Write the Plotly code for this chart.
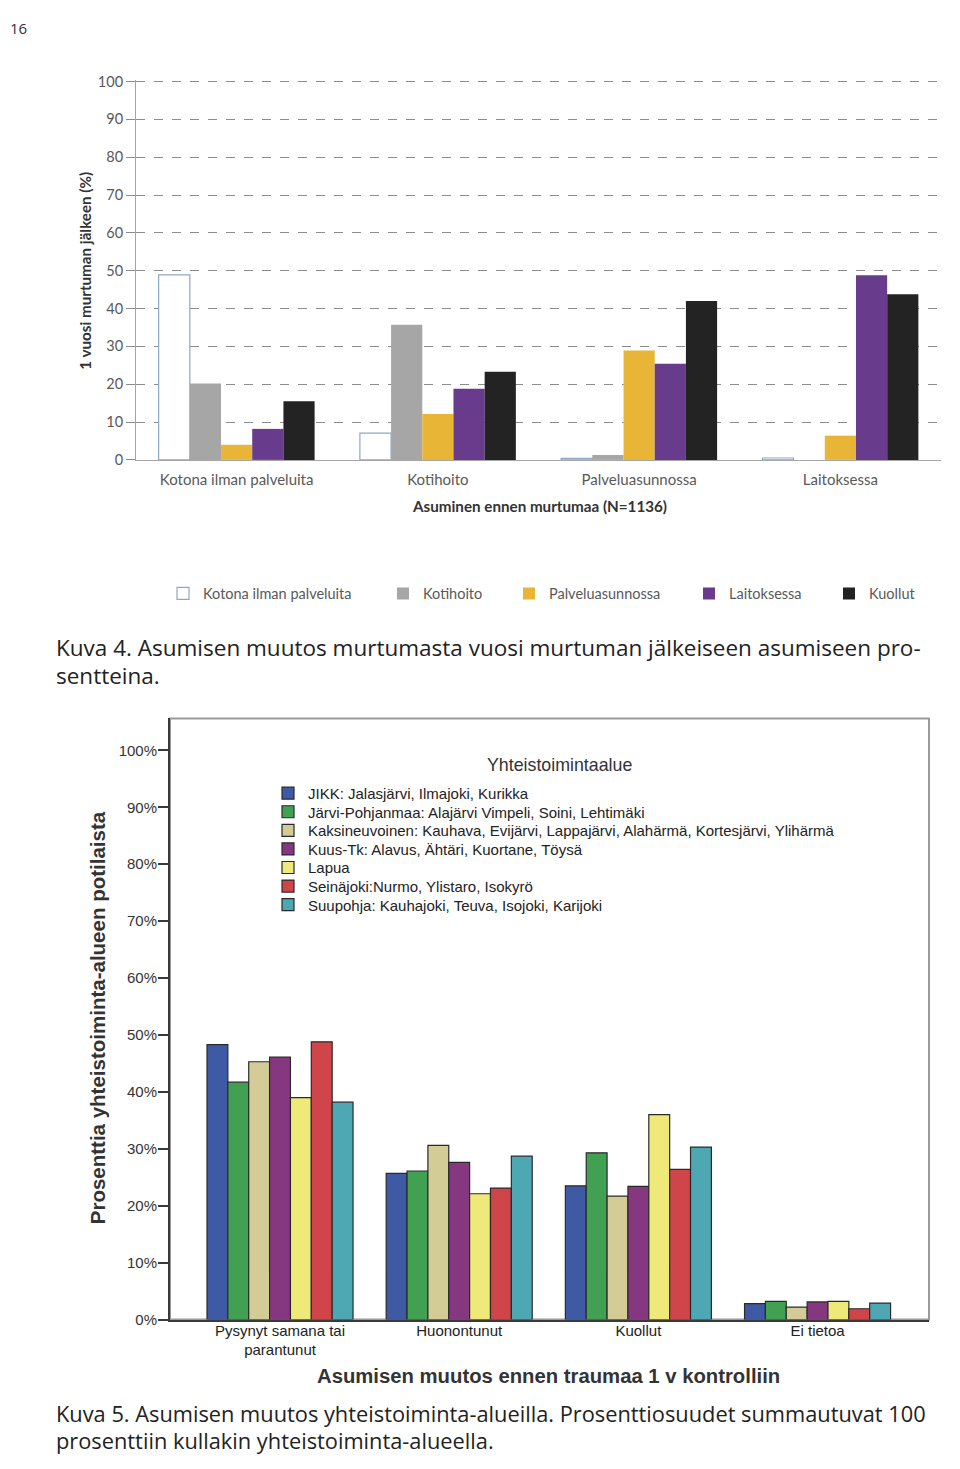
import plotly.graph_objects as go

# Page is 960x1469; the browser adds margins round the figure and the picture
# is taken of the whole page, which is squeezed slightly (factor S, offset B).
PAGE_W, PAGE_H, M = 960, 1469, 8
W, H = PAGE_W - 2 * M, PAGE_H - 2 * M
S, B = 0.9903, 6.2

# ---------------- Data: Chart 1 (Kuva 4) ----------------
cats1 = ["Kotona ilman palveluita", "Kotihoito", "Palveluasunnossa", "Laitoksessa"]
names1 = ["Kotona ilman palveluita", "Kotihoito", "Palveluasunnossa", "Laitoksessa", "Kuollut"]
kotona = [48.9, 7.1, 0.4, 0.5]
kotihoito = [20.2, 35.7, 1.3, 0.0]
palveluasunnossa = [4.0, 12.1, 28.9, 6.4]
laitoksessa = [8.2, 18.8, 25.4, 48.8]
kuollut = [15.5, 23.3, 42.0, 43.8]
yticks1 = [0, 10, 20, 30, 40, 50, 60, 70, 80, 90, 100]

# ---------------- Data: Chart 2 (Kuva 5) ----------------
cats2 = ["Pysynyt samana tai<br>parantunut", "Huonontunut", "Kuollut", "Ei tietoa"]
names2 = [
    "JIKK: Jalasjärvi, Ilmajoki, Kurikka",
    "Järvi-Pohjanmaa: Alajärvi Vimpeli, Soini, Lehtimäki",
    "Kaksineuvoinen: Kauhava, Evijärvi, Lappajärvi, Alahärmä, Kortesjärvi, Ylihärmä",
    "Kuus-Tk: Alavus, Ähtäri, Kuortane, Töysä",
    "Lapua",
    "Seinäjoki:Nurmo, Ylistaro, Isokyrö",
    "Suupohja: Kauhajoki, Teuva, Isojoki, Karijoki",
]
jikk = [48.3, 25.7, 23.5, 2.8]
jarvi = [41.7, 26.1, 29.3, 3.2]
kaksi = [45.3, 30.6, 21.7, 2.2]
kuus = [46.1, 27.6, 23.4, 3.1]
lapua = [39.0, 22.1, 36.0, 3.2]
seinajoki = [48.8, 23.1, 26.4, 1.9]
suupohja = [38.2, 28.7, 30.3, 2.9]
yticks2 = [0, 10, 20, 30, 40, 50, 60, 70, 80, 90, 100]
yticktext2 = [f"{v}%" for v in yticks2]

# ---------------- Styles ----------------
colors1 = ["#FFFFFF", "#A6A6A6", "#E9B537", "#693B8D", "#232323"]
lines1 = ["#8EA8C6", "#A6A6A6", "#E9B537", "#693B8D", "#232323"]
colors2 = ["#3F5AA5", "#41A052", "#D4CC97", "#85377F", "#EFE97A", "#D0454A", "#4DA8B3"]


def px(x):
    return (x - M) / W


def py(y):
    # y is the wanted position in the final picture
    return 1 - ((y - B) / S - M) / H


F1 = "Lato, Liberation Sans, sans-serif"
F2 = "Liberation Sans, Arial, sans-serif"
FC = "Open Sans, DejaVu Sans, sans-serif"

fig = go.Figure()

# Chart 1 bars
series1 = [kotona, kotihoito, palveluasunnossa, laitoksessa, kuollut]
G1 = 0.775
w1 = G1 / len(series1)
legend_ids1 = ["legend", "legend2", "legend3", "legend4", "legend5"]
for i, (nm, vals) in enumerate(zip(names1, series1)):
    fig.add_trace(go.Bar(
        x=cats1, y=vals, name=nm,
        xaxis="x", yaxis="y",
        width=w1, offset=-G1 / 2 + i * w1,
        marker=dict(color=colors1[i], line=dict(color=lines1[i], width=1.2 if i == 0 else 0)),
        legend=legend_ids1[i], showlegend=True,
        hoverinfo="skip",
    ))

# Chart 2 bars
series2 = [jikk, jarvi, kaksi, kuus, lapua, seinajoki, suupohja]
G2 = 0.815
w2 = G2 / len(series2)
legend_ids2 = [f"legend{6 + i}" for i in range(len(series2))]
for i, (nm, vals) in enumerate(zip(names2, series2)):
    fig.add_trace(go.Bar(
        x=cats2, y=vals, name=nm,
        xaxis="x2", yaxis="y2",
        width=w2, offset=-G2 / 2 + i * w2,
        marker=dict(color=colors2[i], line=dict(color="#2A2A2A", width=1.2)),
        legend=legend_ids2[i], showlegend=True,
        hoverinfo="skip",
    ))

# Chart 1 axes geometry (picture pixels)
y0_1, y100_1 = 459.3, 80.7
ppu1 = (y0_1 - y100_1) / 100
ytop1 = 100.4
top_px1 = y0_1 - ytop1 * ppu1

# Chart 2 axes geometry (picture pixels)
y0_2, y100_2 = 1319.5, 750.0
ppu2 = (y0_2 - y100_2) / 100
top_px2 = 718
ytop2 = (y0_2 - top_px2) / ppu2

layout = dict(
    width=W, height=H,
    margin=dict(l=0, r=0, t=0, b=0),
    paper_bgcolor="white", plot_bgcolor="white",
    barmode="overlay", showlegend=True,
    xaxis=dict(
        domain=[px(136), px(941)], anchor="y", type="category",
        categoryorder="array", categoryarray=cats1,
        showline=True, linecolor="#A6A6A6", linewidth=1,
        ticks="", showgrid=False, zeroline=False,
        tickfont=dict(family=F1, size=15, color="#595959"),
        ticklabelstandoff=6,
    ),
    yaxis=dict(
        domain=[py(y0_1), py(top_px1)], anchor="x",
        range=[0, ytop1], tickvals=yticks1,
        showgrid=True, gridcolor="#8C8C8C", griddash="dash", gridwidth=1,
        showline=True, linecolor="#A6A6A6", linewidth=1,
        ticks="outside", ticklen=9, tickcolor="#8C8C8C",
        zeroline=False,
        tickfont=dict(family=F1, size=14.5, color="#595959"),
    ),
    xaxis2=dict(
        domain=[px(170), px(929)], anchor="y2", type="category",
        categoryorder="array", categoryarray=cats2,
        range=[-0.614, 3.622],
        showline=True, linecolor="#3A3A3A", linewidth=2,
        ticks="", showgrid=False, zeroline=False,
        tickfont=dict(family=F2, size=15, color="#222222"),
        ticklabelstandoff=-4,
    ),
    yaxis2=dict(
        domain=[py(y0_2), py(top_px2)], anchor="x2",
        range=[0, ytop2], tickvals=yticks2, ticktext=yticktext2,
        showgrid=False, zeroline=False,
        showline=True, linecolor="#3A3A3A", linewidth=2,
        ticks="outside", ticklen=10, tickcolor="#3A3A3A", tickwidth=1.5,
        tickfont=dict(family=F2, size=15, color="#333333"),
        ticklabelstandoff=-2,
    ),
    shapes=[dict(type="rect", xref="x2 domain", yref="y2 domain",
                 x0=0, x1=1, y0=0, y1=1, line=dict(color="#9A9A9A", width=2),
                 layer="below")],
)

# Chart 1 legend: one horizontal row, each entry placed like the original
sym_left1 = [186, 406, 532, 712, 852]
for i, lid in enumerate(legend_ids1):
    layout[lid] = dict(
        x=px(sym_left1[i] - 23), xanchor="left", y=py(593), yanchor="middle",
        bgcolor="rgba(0,0,0,0)", borderwidth=0, orientation="v",
        font=dict(family=F1, size=14.5, color="#595959"),
    )

# Chart 2 legend: one row per area, 18.6 px apart
row_y2 = [793 + 18.6 * i for i in range(len(series2))]
for i, lid in enumerate(legend_ids2):
    layout[lid] = dict(
        x=px(268), xanchor="left", y=py(row_y2[i]), yanchor="middle",
        bgcolor="rgba(0,0,0,0)", borderwidth=0, orientation="v",
        font=dict(family=F2, size=15, color="#222222"),
    )

fig.update_layout(**layout)

ann = []


def text(x, y, s, size, family, color="#222222", bold=False, xanchor="left",
         angle=0, yanchor="middle"):
    ann.append(dict(
        x=px(x), y=py(y), xref="paper", yref="paper",
        text=f"<b>{s}</b>" if bold else s, showarrow=False,
        xanchor=xanchor, yanchor=yanchor, textangle=angle,
        font=dict(family=family, size=size, color=color),
    ))


text(8, 15, "16", 15, FC, "#333333", yanchor="top")
text(539, 505, "Asuminen ennen murtumaa (N=1136)", 15.2, F1, "#333333", bold=True, xanchor="center")
text(85, 270, "1 vuosi murtuman jälkeen (%)", 15.2, F1, "#333333", bold=True, xanchor="center", angle=-90)
text(54, 647, "Kuva 4. Asumisen muutos murtumasta vuosi murtuman jälkeiseen asumiseen pro-", 22.5, FC)
text(54, 675, "sentteina.", 22.5, FC)
text(559, 765, "Yhteistoimintaalue", 17.8, F2, "#333333", xanchor="center")
text(97, 1018, "Prosenttia yhteistoiminta-alueen potilaista", 20.5, F2, "#333333", bold=True, xanchor="center", angle=-90)
text(548, 1376, "Asumisen muutos ennen traumaa 1 v kontrolliin", 20.3, F2, "#333333", bold=True, xanchor="center")
text(54, 1414, "Kuva 5. Asumisen muutos yhteistoiminta-alueilla. Prosenttiosuudet summautuvat 100", 21.8, FC)
text(54, 1441, "prosenttiin kullakin yhteistoiminta-alueella.", 21.8, FC)

fig.update_layout(annotations=ann)
fig.write_html("out.html")
